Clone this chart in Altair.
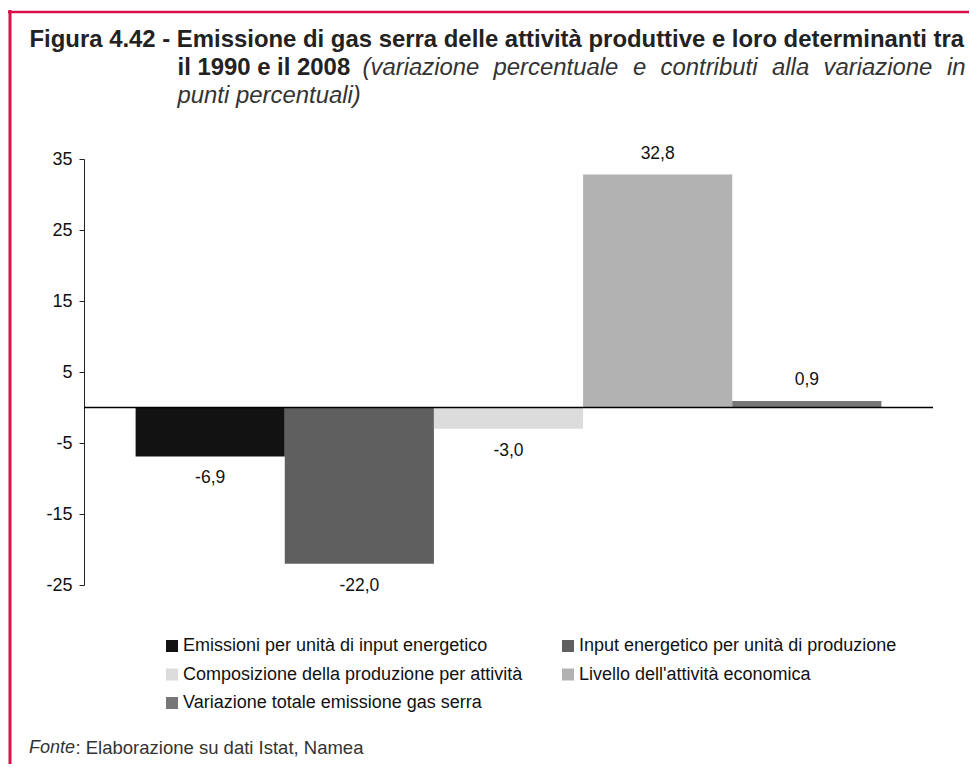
import altair as alt
import pandas as pd

categories = [
    "Emissioni per unità di input energetico",
    "Input energetico per unità di produzione",
    "Composizione della produzione per attività",
    "Livello dell'attività economica",
    "Variazione totale emissione gas serra",
]
values = [-6.9, -22.0, -3.0, 32.8, 0.9]
colors = ["#121212", "#5f5f5f", "#dcdcdc", "#b2b2b2", "#777777"]
y_ticks = [-25, -15, -5, 5, 15, 25, 35]

title_line1 = "Figura 4.42 - Emissione di gas serra delle attività produttive e loro determinanti tra"
title_line2_bold = "il 1990 e il 2008"
# justified italic words of line 2 and their left edges (page px)
title_line2_words = ["(variazione", "percentuale", "e", "contributi", "alla", "variazione", "in"]
title_line2_xs = [362, 493, 632.5, 660, 771.5, 823, 946.5]
title_line3_it = "punti percentuali)"
source_it = "Fonte"
source_rest = ": Elaborazione su dati Istat, Namea"

FONT = "Liberation Sans"
W, H = 849, 426
PAD = {"left": 76, "top": 151, "right": 36, "bottom": 179}
OX, OY = 83.5, 159.3  # page position of plot origin
RED = "#d7124b"

df = pd.DataFrame({"cat": categories, "val": values})
df["label"] = [f"{v:.1f}".replace(".", ",") for v in values]

xenc = alt.X("cat:N", sort=categories, axis=None,
             scale=alt.Scale(paddingInner=0, paddingOuter=0.346))
yenc = alt.Y("val:Q", axis=alt.Axis(values=y_ticks, title=None, grid=False,
                                    labelExpr="'' + datum.value"),
             scale=alt.Scale(domain=[-25, 35], nice=False, zero=False))

base = alt.Chart(df)
bars = base.mark_bar().encode(
    x=xenc, y=yenc,
    color=alt.Color("cat:N", sort=categories,
                    scale=alt.Scale(domain=categories, range=colors),
                    legend=alt.Legend(title=None, orient="none", legendX=79, legendY=478,
                                      columns=2, columnPadding=36, rowPadding=10.5,
                                      symbolType="square", symbolSize=144,
                                      symbolStrokeWidth=0, labelFontSize=18,
                                      labelFont=FONT, labelColor="#111",
                                      labelOffset=2, labelLimit=500, padding=0,
                                      direction="horizontal")),
)
zero = alt.Chart(pd.DataFrame({"z": [0]})).mark_rule(color="black", strokeWidth=1.5).encode(
    y="z:Q", x=alt.value(0), x2=alt.value(W)
)
lab_pos = base.transform_filter("datum.val >= 0").mark_text(
    dy=-21, fontSize=17.5, font=FONT, color="#111").encode(x=xenc, y=yenc, text="label:N")
lab_neg = base.transform_filter("datum.val < 0").mark_text(
    dy=22, fontSize=17.5, font=FONT, color="#111").encode(x=xenc, y=yenc, text="label:N")


def txt(s, x, y, size, weight="normal", style="normal", color="#222"):
    return alt.Chart(pd.DataFrame({"t": [s]})).mark_text(
        align="left", baseline="middle", fontSize=size, fontWeight=weight,
        fontStyle=style, font=FONT, color=color,
    ).encode(x=alt.value(x - OX), y=alt.value(y - OY), text="t:N")


TS = 23.9
layers_text = [
    txt(title_line1, 29, 40, TS, weight="bold"),
    txt(title_line2_bold, 177, 68, TS, weight="bold"),
    txt(title_line3_it, 177, 96, TS, style="italic", color="#333"),
    txt(source_it, 28.5, 748, 18, style="italic", color="#333"),
    txt(source_rest, 75, 748, 18.5, color="#333"),
]
for w, xw in zip(title_line2_words, title_line2_xs):
    layers_text.append(txt(w, xw, 68, TS, style="italic", color="#333"))

border_left = alt.Chart(pd.DataFrame({"a": [0]})).mark_rule(color=RED, strokeWidth=3).encode(
    x=alt.value(-74), y=alt.value(-149), y2=alt.value(640))
border_top = alt.Chart(pd.DataFrame({"a": [0]})).mark_rule(color=RED, strokeWidth=2.5).encode(
    y=alt.value(-147), x=alt.value(-76), x2=alt.value(900))

chart = alt.layer(
    bars, zero, lab_pos, lab_neg, *layers_text, border_left, border_top
).properties(
    width=W, height=H,
    autosize=alt.AutoSizeParams(type="none"),
    padding=PAD,
    background="white",
).configure_view(stroke=None).configure_axis(
    domainColor="#222", domainWidth=1, tickColor="#222", tickSize=5, tickWidth=1,
    labelFont=FONT, labelFontSize=18, labelColor="#111", labelPadding=7,
)

chart.save("out.html", embed_options={"renderer": "svg", "actions": False})
